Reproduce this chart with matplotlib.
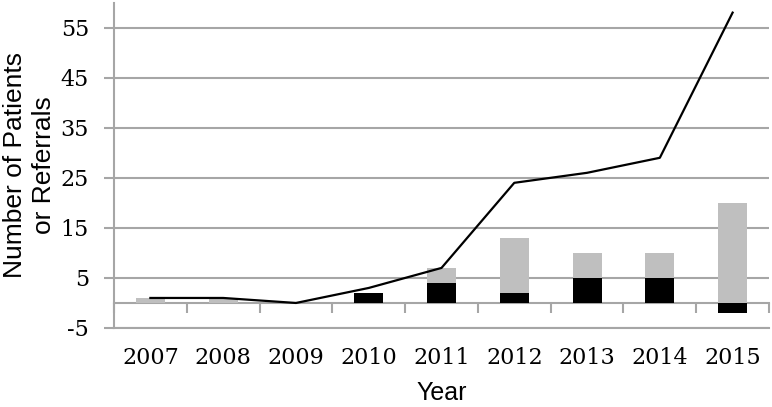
import matplotlib.pyplot as plt
import numpy as np

plt.rcParams['axes.unicode_minus'] = False

years = ['2007', '2008', '2009', '2010', '2011', '2012', '2013', '2014', '2015']
black_vals = [0, 0, 0, 2, 4, 2, 5, 5, -2]
gray_vals = [1, 1, 0, 0, 3, 11, 5, 5, 20]
line_vals = [1, 1, 0, 3, 7, 24, 26, 29, 58]

grid_col = '#A6A6A6'
x = np.arange(len(years))
bottoms = np.maximum(black_vals, 0)

fig = plt.figure(figsize=(7.72, 4.07), dpi=100)
ax = fig.add_axes([114 / 772, 1 - 328 / 407, 655 / 772, 325.4 / 407])

ax.set_axisbelow(True)
ax.yaxis.grid(True, color=grid_col, linewidth=1.5)
ax.bar(x, black_vals, width=0.4, color='black', zorder=2)
ax.bar(x, gray_vals, width=0.4, bottom=bottoms, color='#BFBFBF', zorder=2)
ax.plot(x, line_vals, color='black', linewidth=1.6, zorder=3)

ax.set_xlim(-0.5, len(years) - 0.5)
ax.set_ylim(-5, 60)
ax.set_yticks(np.arange(-5, 60, 10))
ax.set_xticks(x)
ax.set_xticklabels(years)

for s in ['top', 'right']:
    ax.spines[s].set_visible(False)
for s in ['left', 'bottom']:
    ax.spines[s].set_color(grid_col)
    ax.spines[s].set_linewidth(1.5)

ax.tick_params(axis='y', length=7, width=1.5, color=grid_col, pad=11,
               labelsize=16)
ax.tick_params(axis='x', length=0, pad=14, labelsize=16)
for lab in ax.get_xticklabels() + ax.get_yticklabels():
    lab.set_fontfamily('DejaVu Serif')

# zero line with category separators
zero = ax.secondary_xaxis(5 / 65)
zero.set_xticks(np.arange(-0.5, len(years), 1.0))
zero.set_xticklabels([])
zero.tick_params(length=7, width=1.5, color=grid_col, direction='out')
zero.spines['bottom'].set_color(grid_col)
zero.spines['bottom'].set_linewidth(1.5)

ax.set_xlabel('Year', fontsize=18, fontfamily='Liberation Sans')
ax.xaxis.set_label_coords(0.5, -0.2)
ax.set_ylabel('Number of Patients\nor Referrals', fontsize=19,
              fontfamily='Liberation Sans', linespacing=1.3)
ax.yaxis.set_label_coords(-0.129, 0.5)
ax.yaxis.label.set_verticalalignment('center')
ax.xaxis.label.set_verticalalignment('center')

fig.savefig('out.png', dpi=100)
